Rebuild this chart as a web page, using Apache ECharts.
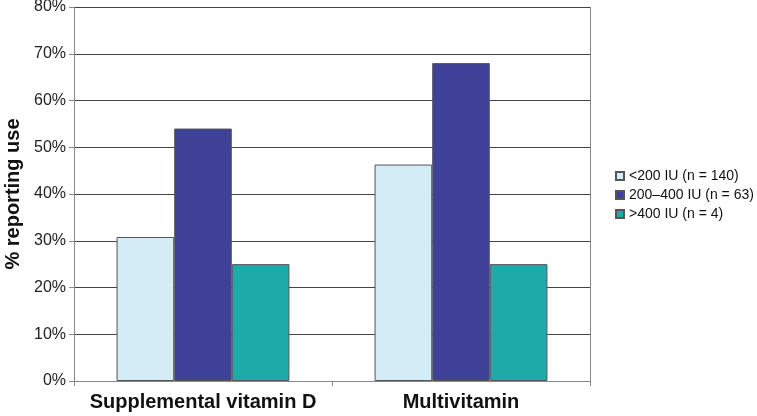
<!DOCTYPE html>
<html><head><meta charset="utf-8">
<script src="https://cdn.jsdelivr.net/npm/echarts@6/dist/echarts.min.js"></script>
<style>html,body{margin:0;padding:0;background:#fff}#c{width:757px;height:416px}</style>
</head><body><div id="c"></div>
<script>
const categories = ['Supplemental vitamin D', 'Multivitamin'];
const seriesNames = ['<200 IU (n = 140)', '200–400 IU (n = 63)', '>400 IU (n = 4)'];
const low = [30.8, 46.3];
const mid = [54, 68];
const high = [25, 25];
const yTicks = [0, 10, 20, 30, 40, 50, 60, 70, 80];
const colors = ['#d4ecf6', '#3f4199', '#1eaaa8'];
const values = [low, mid, high];

const chart = echarts.init(document.getElementById('c'));
chart.setOption({
  animation: false,
  textStyle: { fontFamily: 'Liberation Sans, Arial, sans-serif' },
  grid: { left: 74, right: 167, top: 7, bottom: 35, containLabel: false, outerBoundsMode: 'none' },
  legend: {
    orient: 'vertical', left: 610, top: 164,
    itemWidth: 8, itemHeight: 8, itemGap: 5,
    icon: 'rect',
    textStyle: { fontSize: 14, color: '#111', fontFamily: 'Liberation Sans, Arial, sans-serif' },
    data: seriesNames
  },
  xAxis: {
    type: 'category', data: categories,
    axisLine: { lineStyle: { color: '#888', width: 1 } },
    axisTick: { show: true, length: 5, lineStyle: { color: '#888' } },
    axisLabel: { fontSize: 20, fontWeight: 'bold', color: '#111', margin: 11, interval: 0, hideOverlap: false },
    splitLine: { show: false }
  },
  yAxis: {
    type: 'value', min: 0, max: 80, interval: 10,
    name: '% reporting use', nameLocation: 'middle', nameGap: 50,
    nameTextStyle: { fontSize: 20, fontWeight: 'bold', color: '#111' },
    axisLine: { show: true, lineStyle: { color: '#888' } },
    axisTick: { show: true, length: 5, lineStyle: { color: '#888' } },
    axisLabel: { fontSize: 16, color: '#222', margin: 8, formatter: v => yTicks.includes(v) ? v + '%' : '' },
    splitLine: { show: true, lineStyle: { color: '#444', width: 1 } }
  },
  series: [
    ...values.map((d, i) => ({
      name: seriesNames[i], type: 'bar', data: d,
      barGap: '0%', barCategoryGap: '33%',
      itemStyle: { color: colors[i], borderColor: '#555', borderWidth: 1 }
    })),
    {
      type: 'line', data: [], silent: true,
      markLine: {
        symbol: 'none', silent: true, label: { show: false },
        lineStyle: { color: '#888', type: 'solid', width: 1 },
        data: [[{ x: 590, y: 7 }, { x: 590, y: 381 }]]
      }
    }
  ]
});
</script></body></html>
